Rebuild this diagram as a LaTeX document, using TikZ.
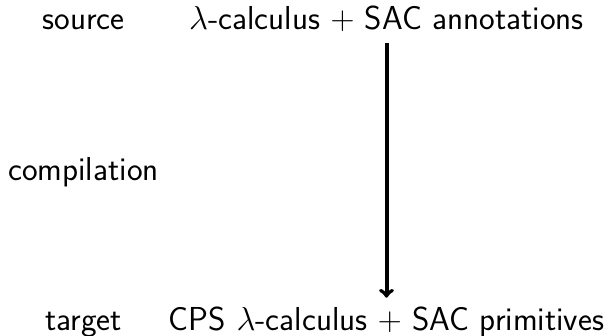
\RequirePackage{fix-cm}
\documentclass[tikz,border=0pt]{standalone}
\begin{document}
\begin{tikzpicture}[x=1pt,y=1pt,
  lbl/.style={font=\sffamily\fontsize{33.2}{40}\selectfont, inner sep=0pt, anchor=base},
  arr/.style={line width=4pt,->}]
\useasboundingbox (0,0) rectangle (607,336);
\node[lbl] (src) at (83.5,306) {source};
\node[lbl] (top) at (386.5,306) {$\lambda$-calculus $+$ SAC annotations};
\node[lbl] (comp) at (83.5,155.3) {compilation};
\node[lbl] (tgt) at (83.5,5.5) {target};
\node[lbl] (bot) at (386.5,5.5) {CPS $\lambda$-calculus $+$ SAC primitives};
\coordinate (ax) at (386.5,0);
\draw[arr] ([yshift=-11pt]top.south -| ax) -- ([yshift=9pt]bot.north -| ax);
\end{tikzpicture}
\end{document}
